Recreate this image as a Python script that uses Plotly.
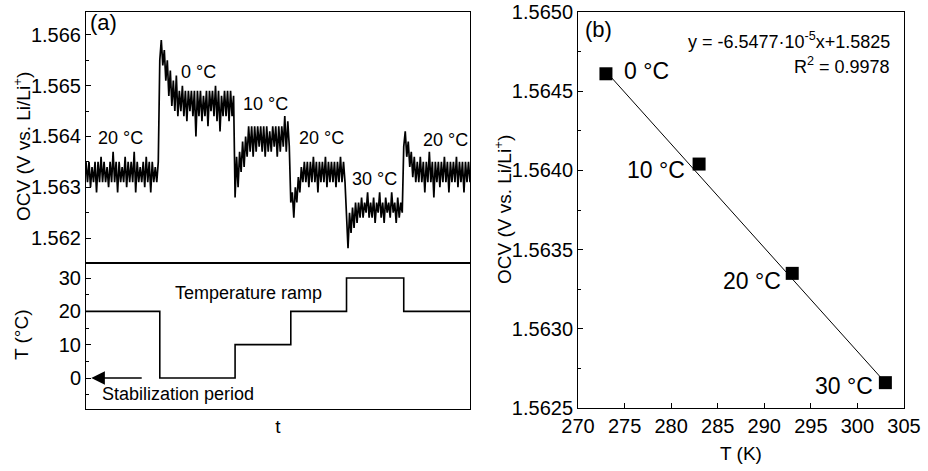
import numpy as np
import plotly.graph_objects as go

# ---------------- data ----------------
# OCV trace (V vs. Li/Li+) recorded during each temperature hold
ocv_hold_20a = [1.5635, 1.5631, 1.5635, 1.5630, 1.5634, 1.5631, 1.5635, 1.5629, 1.5635, 1.5631,
                1.5636, 1.5631, 1.5635, 1.5631, 1.5634, 1.5630, 1.5635, 1.5631, 1.5637, 1.5631,
                1.5635, 1.5629, 1.5635, 1.5631, 1.5634, 1.5631, 1.5636, 1.5630, 1.5635, 1.5631,
                1.5635, 1.5631, 1.5637, 1.5629, 1.5635, 1.5631, 1.5634, 1.5631, 1.5635, 1.5630,
                1.5636, 1.5631, 1.5635, 1.5629, 1.5635, 1.5631, 1.5634, 1.5631, 1.5635]
ocv_hold_0 = [1.5655, 1.5659, 1.5654, 1.5657, 1.5651, 1.5655, 1.5648, 1.5653, 1.5646, 1.5651,
              1.5645, 1.5652, 1.5644, 1.5649, 1.5645, 1.5650, 1.5644, 1.5649, 1.5643, 1.5649,
              1.5645, 1.5649, 1.5644, 1.5649, 1.5640, 1.5649, 1.5644, 1.5649, 1.5643, 1.5648,
              1.5644, 1.5649, 1.5642, 1.5649, 1.5645, 1.5649, 1.5644, 1.5650, 1.5643, 1.5649,
              1.5641, 1.5648, 1.5644, 1.5649, 1.5644, 1.5649, 1.5643, 1.5649, 1.5644, 1.5648]
ocv_hold_10 = [1.5628, 1.5636, 1.5630, 1.5637, 1.5633, 1.5639, 1.5634, 1.5640, 1.5636, 1.5642,
               1.5637, 1.5642, 1.5636, 1.5642, 1.5637, 1.5642, 1.5638, 1.5642, 1.5637, 1.5642,
               1.5636, 1.5642, 1.5637, 1.5641, 1.5637, 1.5642, 1.5638, 1.5642, 1.5636, 1.5642,
               1.5637, 1.5642, 1.5638, 1.5644, 1.5637, 1.5643, 1.5638]
ocv_hold_20b = [1.5627, 1.5629, 1.5624, 1.5630, 1.5627, 1.5632, 1.5629, 1.5634, 1.5631, 1.5635,
                1.5631, 1.5635, 1.5630, 1.5635, 1.5631, 1.5636, 1.5631, 1.5635, 1.5629, 1.5635,
                1.5631, 1.5635, 1.5631, 1.5636, 1.5630, 1.5635, 1.5631, 1.5635, 1.5631, 1.5635,
                1.5630, 1.5635, 1.5631, 1.5636, 1.5631, 1.5635, 1.5631]
ocv_hold_30 = [1.5624, 1.5618, 1.5625, 1.5621, 1.5626, 1.5622, 1.5627, 1.5623, 1.5627, 1.5624,
               1.5628, 1.5624, 1.5627, 1.5625, 1.5629, 1.5624, 1.5627, 1.5624, 1.5628, 1.5623,
               1.5627, 1.5625, 1.5629, 1.5624, 1.5627, 1.5623, 1.5628, 1.5625, 1.5627, 1.5624,
               1.5629, 1.5625, 1.5627, 1.5623, 1.5628, 1.5624, 1.5627, 1.5625]
ocv_hold_20c = [1.5638, 1.5641, 1.5636, 1.5639, 1.5634, 1.5637, 1.5632, 1.5636, 1.5631, 1.5635,
                1.5631, 1.5636, 1.5631, 1.5635, 1.5629, 1.5635, 1.5631, 1.5637, 1.5631, 1.5635,
                1.5628, 1.5635, 1.5631, 1.5635, 1.5630, 1.5635, 1.5631, 1.5636, 1.5631, 1.5635,
                1.5629, 1.5635, 1.5631, 1.5635, 1.5631, 1.5636, 1.5630, 1.5635, 1.5631, 1.5635,
                1.5629, 1.5635, 1.5631, 1.5635, 1.5631]

# temperature set point of each hold (°C)
hold_temps_C = [20, 0, 10, 20, 30, 20]

# equilibrium OCV versus absolute temperature
temps_K = [273, 283, 293, 303]
ocv_eq = [1.56461, 1.56404, 1.56335, 1.56266]
point_labels = ["0 °C", "10 °C", "20 °C", "30 °C"]

# linear fit coefficients
fit_slope = -6.5477e-5
fit_intercept = 1.5825
fit_r2 = 0.9978

# ---------------- derived series ----------------
holds = [ocv_hold_20a, ocv_hold_0, ocv_hold_10, ocv_hold_20b, ocv_hold_30, ocv_hold_20c]
ocv_trace = np.concatenate(holds)
t = np.arange(len(ocv_trace))
starts = np.cumsum([0] + [len(h) for h in holds[:-1]])
t_step = list(starts) + [len(ocv_trace) - 1]
T_step = hold_temps_C + [hold_temps_C[-1]]

fit_x = np.array([temps_K[0], temps_K[-1]])
fit_y = fit_slope * fit_x + fit_intercept

FONT = "Liberation Sans, Arial, sans-serif"
BLACK = "#000000"
W, H = 928, 471

fig = go.Figure()

fig.add_trace(go.Scatter(x=t, y=ocv_trace, mode="lines",
                         line=dict(color=BLACK, width=1.7),
                         xaxis="x", yaxis="y", showlegend=False))
fig.add_trace(go.Scatter(x=t_step, y=T_step, mode="lines", line_shape="hv",
                         line=dict(color=BLACK, width=1.6),
                         xaxis="x2", yaxis="y2", showlegend=False))
fig.add_trace(go.Scatter(x=fit_x, y=fit_y, mode="lines",
                         line=dict(color=BLACK, width=1),
                         xaxis="x3", yaxis="y3", showlegend=False))
fig.add_trace(go.Scatter(x=temps_K, y=ocv_eq, mode="markers",
                         marker=dict(symbol="square", size=13, color=BLACK),
                         xaxis="x3", yaxis="y3", showlegend=False))

axis_common = dict(showline=True, linecolor=BLACK, linewidth=1, mirror=True,
                   showgrid=False, zeroline=False, ticks="inside", ticklen=5,
                   tickcolor=BLACK, tickwidth=1, automargin=False,
                   tickfont=dict(family=FONT, size=20, color=BLACK))

left_x = [86 / W, 470 / W]
split = 1 - 262.5 / H

fig.update_layout(
    width=W, height=H,
    margin=dict(l=0, r=0, t=0, b=0),
    paper_bgcolor="white", plot_bgcolor="white",
    font=dict(family=FONT, size=19, color=BLACK),
    xaxis=dict(axis_common, domain=left_x, anchor="y", range=[0, 255],
               showticklabels=False, ticks=""),
    yaxis=dict(axis_common, domain=[split, 1 - 12 / H], anchor="x",
               range=[1.56152, 1.56645], dtick=0.001, tick0=1.562, tickformat=".3f",
               minor=dict(ticks="inside", ticklen=3, dtick=0.0005, tickcolor=BLACK)),
    xaxis2=dict(axis_common, domain=left_x, anchor="y2", range=[0, 255],
                showticklabels=False, ticks="",
                title=dict(text="t", standoff=10, font=dict(family=FONT, size=19))),
    yaxis2=dict(axis_common, domain=[1 - 409 / H, split], anchor="x2",
                range=[-9.3, 34.65], dtick=10, tick0=0,
                minor=dict(ticks="inside", ticklen=3, dtick=5, tickcolor=BLACK)),
    xaxis3=dict(axis_common, domain=[578 / W, 904 / W], anchor="y3",
                range=[270, 305], dtick=5, tick0=270,
                title=dict(text="T (K)", standoff=10, font=dict(family=FONT, size=19))),
    yaxis3=dict(axis_common, domain=[1 - 408 / H, 1 - 12 / H], anchor="x3",
                range=[1.5625, 1.5650], dtick=0.0005, tick0=1.5625, tickformat=".4f",
                minor=dict(ticks="inside", ticklen=3, dtick=0.00025, tickcolor=BLACK)),
)

ann = []


def text(x, y, s, xref, yref, size=18, xanchor="center", angle=0):
    ann.append(dict(x=x, y=y, xref=xref, yref=yref, text=s, showarrow=False,
                    xanchor=xanchor, yanchor="middle", textangle=angle,
                    font=dict(family=FONT, size=size, color=BLACK)))


# vertical axis titles
text(22 / W, 1 - 147 / H, "OCV (V vs. Li/Li<sup>+</sup>)", "paper", "paper", size=19, angle=-90)
text(21 / W, 1 - 335 / H, "T (°C)", "paper", "paper", size=19, angle=-90)
text(503 / W, 1 - 210 / H, "OCV (V vs. Li/Li<sup>+</sup>)", "paper", "paper", size=19, angle=-90)

# panel (a): hold temperatures written above the OCV trace
text(1.5, 1.56625, "(a)", "x", "y", size=22, xanchor="left")
hold_label_pos = [(22.6, 1.56397), (75.0, 1.56527), (118.9, 1.56464),
                  (156.7, 1.56397), (191.9, 1.56316), (238.4, 1.56393)]
for (lx, ly), temp in zip(hold_label_pos, hold_temps_C):
    text(lx, ly, f"{temp} °C", "x", "y", size=18)

# panel (a) lower: temperature programme
text(107.6, 25.4, "Temperature ramp", "x2", "y2", size=18)
text(61, -4.8, "Stabilization period", "x2", "y2", size=18)
ann.append(dict(x=3.5, y=0, ax=38, ay=0, xref="x2", yref="y2", axref="x2", ayref="y2",
                showarrow=True, arrowhead=2, arrowsize=1.7, arrowwidth=1.6,
                arrowcolor=BLACK, text=""))

# panel (b)
text(270.5, 1.56489, "(b)", "x3", "y3", size=22, xanchor="left")
text(303.7, 1.56482, f"y = {fit_slope * 1e5:.4f}·10<sup>-5</sup>x+{fit_intercept}",
     "x3", "y3", size=18, xanchor="right")
text(303.7, 1.56466, f"R<sup>2</sup> = {fit_r2}", "x3", "y3", size=18, xanchor="right")
label_pos = [(274.7, 1.56463, "left"), (281.7, 1.56400, "right"),
             (292.0, 1.56330, "right"), (301.9, 1.56264, "right")]
for (lx, ly, anc), lab in zip(label_pos, point_labels):
    text(lx, ly, lab, "x3", "y3", size=23, xanchor=anc)

fig.update_layout(annotations=ann)

fig.write_html("out.html")
